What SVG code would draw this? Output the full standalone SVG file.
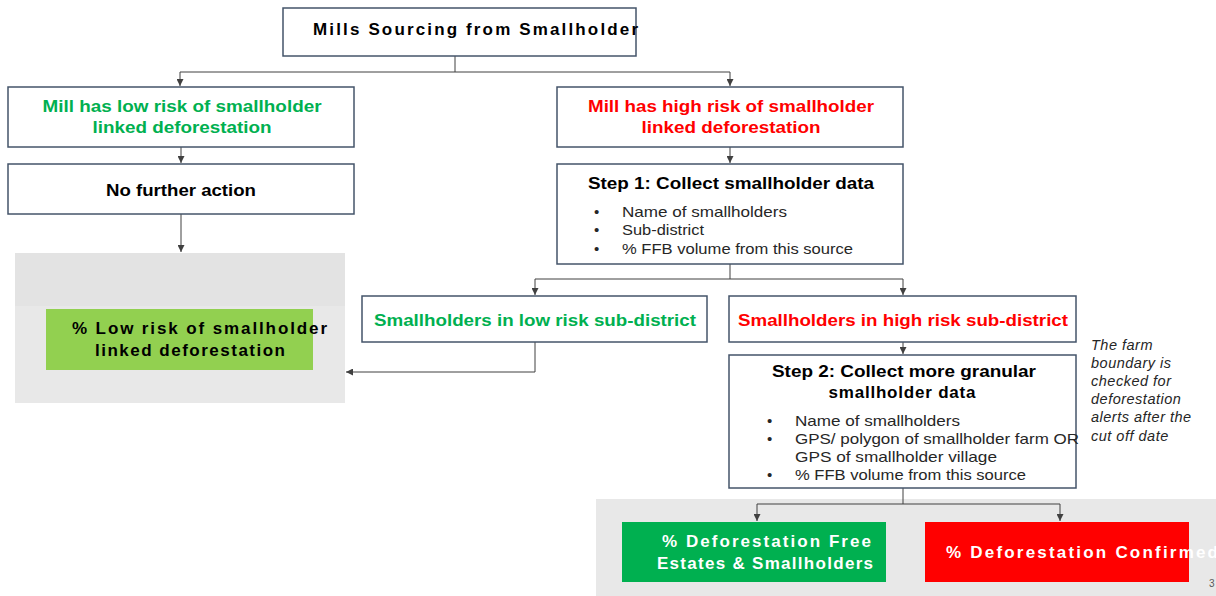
<svg xmlns="http://www.w3.org/2000/svg" width="1216" height="596" viewBox="0 0 1216 596">
  <style>
    .box { fill: #ffffff; stroke: #44546a; stroke-width: 1.5; }
    .t { font-family: "Liberation Sans", Arial, sans-serif; }
    .b { font-weight: bold; font-size: 17px; }
    .mid { text-anchor: middle; }
    .green { fill: #00b050; }
    .red { fill: #ff0000; }
    .dark { fill: #000000; }
    .wh { fill: #ffffff; }
    .li { font-size: 15px; fill: #262626; }
    .note { font-size: 14.5px; font-style: italic; fill: #262626; letter-spacing: 0.5px; }
    .wire { fill: none; stroke: #404040; stroke-width: 1; }
  </style>
  <defs>
    <marker id="arr" viewBox="0 0 10 10" refX="10" refY="5" markerWidth="7" markerHeight="7" orient="auto" markerUnits="userSpaceOnUse">
      <path d="M0,0 L10,5 L0,10 z" fill="#404040"/>
    </marker>
  </defs>

  <rect width="1216" height="596" fill="#ffffff"/>

  <!-- shaded outcome panels -->
  <rect x="15" y="253" width="330" height="150" fill="#e8e8e8"/>
  <rect x="15" y="253" width="330" height="53" fill="#e3e3e3"/>
  <rect x="596" y="499" width="620" height="97" fill="#e8e8e8"/>

  <g id="connectors">
    <path class="wire" d="M455,56 V72 H180 V86" marker-end="url(#arr)"/>
    <path class="wire" d="M455,72 H730 V86" marker-end="url(#arr)"/>
    <path class="wire" d="M181,147 V163" marker-end="url(#arr)"/>
    <path class="wire" d="M181,214 V252" marker-end="url(#arr)"/>
    <path class="wire" d="M730,147 V163" marker-end="url(#arr)"/>
    <path class="wire" d="M730,264 V279 H535 V295" marker-end="url(#arr)"/>
    <path class="wire" d="M730,279 H903 V295" marker-end="url(#arr)"/>
    <path class="wire" d="M535,342 V372 H346" marker-end="url(#arr)"/>
    <path class="wire" d="M903,342 V354" marker-end="url(#arr)"/>
    <path class="wire" d="M903,488 V504 H757 V521" marker-end="url(#arr)"/>
    <path class="wire" d="M903,504 H1060 V521" marker-end="url(#arr)"/>
  </g>

  <g id="top">
    <rect class="box" x="283" y="8" width="353" height="48"/>
    <text class="t b dark" x="313" y="35" textLength="325" lengthAdjust="spacing" style="font-weight:600">Mills Sourcing from Smallholder</text>
  </g>

  <g id="low-risk-mill">
    <rect class="box" x="8" y="87" width="346" height="60"/>
    <text class="t b green mid" x="182" y="112" textLength="279" lengthAdjust="spacingAndGlyphs">Mill has low risk of smallholder</text>
    <text class="t b green mid" x="182" y="133" textLength="179" lengthAdjust="spacingAndGlyphs">linked deforestation</text>
  </g>

  <g id="no-action">
    <rect class="box" x="8" y="164" width="346" height="50"/>
    <text class="t b dark mid" x="181" y="196" textLength="150" lengthAdjust="spacingAndGlyphs">No further action</text>
  </g>

  <g id="low-risk-outcome">
    <rect x="46" y="309" width="267" height="61" fill="#92d050"/>
    <text class="t b dark" x="72" y="334" textLength="255" lengthAdjust="spacing">% Low risk of smallholder</text>
    <text class="t b dark" x="95" y="356" textLength="190" lengthAdjust="spacing">linked deforestation</text>
  </g>

  <g id="high-risk-mill">
    <rect class="box" x="557" y="87" width="346" height="60"/>
    <text class="t b red mid" x="731" y="112" textLength="286" lengthAdjust="spacingAndGlyphs">Mill has high risk of smallholder</text>
    <text class="t b red mid" x="731" y="133" textLength="179" lengthAdjust="spacingAndGlyphs">linked deforestation</text>
  </g>

  <g id="step1">
    <rect class="box" x="557" y="164" width="346" height="100"/>
    <text class="t b dark mid" x="731" y="189" textLength="286" lengthAdjust="spacingAndGlyphs">Step 1: Collect smallholder data</text>
    <text class="t li" x="594" y="217">•</text>
    <text class="t li" x="622" y="217" textLength="165" lengthAdjust="spacingAndGlyphs">Name of smallholders</text>
    <text class="t li" x="594" y="235">•</text>
    <text class="t li" x="622" y="235" textLength="82" lengthAdjust="spacingAndGlyphs">Sub-district</text>
    <text class="t li" x="594" y="254">•</text>
    <text class="t li" x="622" y="254" textLength="231" lengthAdjust="spacingAndGlyphs">% FFB volume from this source</text>
  </g>

  <g id="low-risk-sub">
    <rect class="box" x="362" y="296" width="345" height="46"/>
    <text class="t b green mid" x="535" y="326" textLength="322" lengthAdjust="spacingAndGlyphs">Smallholders in low risk sub-district</text>
  </g>

  <g id="high-risk-sub">
    <rect class="box" x="729" y="296" width="347" height="46"/>
    <text class="t b red mid" x="903" y="326" textLength="330" lengthAdjust="spacingAndGlyphs">Smallholders in high risk sub-district</text>
  </g>

  <g id="step2">
    <rect class="box" x="729" y="355" width="347" height="133"/>
    <text class="t b dark mid" x="904" y="377" textLength="264" lengthAdjust="spacingAndGlyphs">Step 2: Collect more granular</text>
    <text class="t b dark mid" x="902" y="398" textLength="147" lengthAdjust="spacing">smallholder data</text>
    <text class="t li" x="767" y="426">•</text>
    <text class="t li" x="795" y="426" textLength="165" lengthAdjust="spacingAndGlyphs">Name of smallholders</text>
    <text class="t li" x="767" y="444">•</text>
    <text class="t li" x="795" y="444" textLength="284" lengthAdjust="spacingAndGlyphs">GPS/ polygon of smallholder farm OR</text>
    <text class="t li" x="795" y="462" textLength="202" lengthAdjust="spacingAndGlyphs">GPS of smallholder village</text>
    <text class="t li" x="767" y="480">•</text>
    <text class="t li" x="795" y="480" textLength="231" lengthAdjust="spacingAndGlyphs">% FFB volume from this source</text>
  </g>

  <g id="note">
    <text class="t note" x="1091" y="350">The farm</text>
    <text class="t note" x="1091" y="368">boundary is</text>
    <text class="t note" x="1091" y="386">checked for</text>
    <text class="t note" x="1091" y="404">deforestation</text>
    <text class="t note" x="1091" y="422">alerts after the</text>
    <text class="t note" x="1091" y="441">cut off date</text>
  </g>

  <g id="free-outcome">
    <rect x="622" y="522" width="264" height="60" fill="#00b050"/>
    <text class="t b wh" x="662" y="547" textLength="209" lengthAdjust="spacing">% Deforestation Free</text>
    <text class="t b wh" x="657" y="569" textLength="216" lengthAdjust="spacing">Estates &amp; Smallholders</text>
  </g>

  <g id="confirmed-outcome">
    <rect x="925" y="522" width="264" height="60" fill="#ff0000"/>
    <text class="t b wh" x="946" y="558" textLength="272" lengthAdjust="spacing">% Deforestation Confirmed</text>
  </g>

  <text class="t" x="1209" y="587" font-size="10" fill="#595959">3</text>
</svg>
